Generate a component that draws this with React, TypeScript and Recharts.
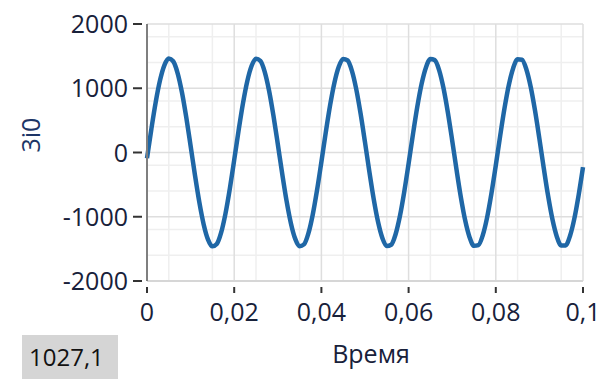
import { LineChart, Line, XAxis, YAxis, CartesianGrid } from 'recharts';

// 3i0 waveform, sampled every 1 ms
const sampleStep = 0.001;
const current3i0 = [
  -90, 365, 784, 1127, 1361, 1462, 1420, 1241, 941, 549,
  104, -352, -773, -1119, -1356, -1461, -1424, -1248, -951, -562,
  -117, 338, 761, 1110, 1350, 1460, 1427, 1256, 962, 574,
  131, -325, -749, -1100, -1345, -1458, -1430, -1263, -972, -587,
  -145, 311, 737, 1091, 1339, 1457, 1433, 1270, 982, 600,
  159, -298, -725, -1082, -1334, -1456, -1436, -1276, -993, -612,
  -172, 284, 713, 1073, 1328, 1454, 1438, 1283, 1003, 625,
  186, -271, -701, -1063, -1322, -1452, -1441, -1290, -1013, -637,
  -200, 257, 689, 1054, 1316, 1450, 1443, 1296, 1023, 650,
  214, -243, -677, -1044, -1310, -1448, -1446, -1303, -1033, -662,
  -227,
];

const xTicks = [0, 0.02, 0.04, 0.06, 0.08, 0.1];
const yTicks = [-2000, -1000, 0, 1000, 2000];
const xMinor = [
  0.005, 0.01, 0.015, 0.025, 0.03, 0.035, 0.045, 0.05, 0.055,
  0.065, 0.07, 0.075, 0.085, 0.09, 0.095,
];
const yMinor = [
  -1800, -1600, -1400, -1200, -800, -600, -400, -200,
  200, 400, 600, 800, 1200, 1400, 1600, 1800,
];
const readout = '1027,1';

const chartData = current3i0.map((v, i) => ({ t: i * sampleStep, v }));

const TEXT = '#18213a';
const FONT = "'Open Sans', sans-serif";

const fmt = (v: number) => String(v).replace('.', ',');

const YTick = ({ x, y, payload }: any) => (
  <g>
    <line x1={x - 14} x2={x - 5} y1={y} y2={y} stroke="#333" strokeWidth={2} />
    <text x={x - 19} y={y} dy="0.36em" textAnchor="end" fontSize={25} fontFamily={FONT} fill={TEXT}>
      {payload.value}
    </text>
  </g>
);

const XTick = ({ x, y, payload }: any) => (
  <g>
    <line x1={x} x2={x} y1={y + 6} y2={y + 12} stroke="#333" strokeWidth={2} />
    <text x={x} y={y + 40} textAnchor="middle" fontSize={25} fontFamily={FONT} fill={TEXT}>
      {fmt(payload.value)}
    </text>
  </g>
);

export default function App() {
  return (
    <div style={{ position: 'absolute', left: 0, top: 0, width: 600, height: 379, background: '#fff' }}>
      <LineChart
        width={600}
        height={379}
        data={chartData}
        margin={{ top: 24, right: 17, bottom: 0, left: 0 }}
      >
        <CartesianGrid stroke="#efefef" strokeWidth={1.5} verticalValues={xMinor} horizontalValues={yMinor} />
        <CartesianGrid stroke="#dedede" strokeWidth={1.5} verticalValues={xTicks} horizontalValues={yTicks} />
        <XAxis
          dataKey="t"
          type="number"
          domain={[0, 0.1]}
          ticks={xTicks}
          height={98}
          tickSize={0}
          tickMargin={0}
          tick={<XTick />}
          axisLine={{ stroke: '#d6d6d6', strokeWidth: 2 }}
          label={{ value: 'Время', position: 'insideBottom', offset: 16, dx: 6, fontSize: 25, fontFamily: FONT, fill: TEXT }}
        />
        <XAxis
          xAxisId="top"
          orientation="top"
          type="number"
          domain={[0, 0.1]}
          height={0}
          tick={false}
          tickLine={false}
          axisLine={{ stroke: '#7f7f7f', strokeWidth: 2 }}
        />
        <YAxis
          type="number"
          domain={[-2000, 2000]}
          ticks={yTicks}
          width={147}
          tickSize={0}
          tickMargin={0}
          tick={<YTick />}
          axisLine={{ stroke: '#7f7f7f', strokeWidth: 2 }}
          label={{ value: '3i0', angle: -90, position: 'insideLeft', offset: 31, fontSize: 25, fontFamily: FONT, fill: '#1d3566' }}
        />
        <YAxis
          yAxisId="right"
          orientation="right"
          type="number"
          domain={[-2000, 2000]}
          width={0}
          tick={false}
          tickLine={false}
          axisLine={{ stroke: '#d6d6d6', strokeWidth: 2 }}
        />
        <Line
          type="monotone"
          dataKey="v"
          stroke="#1f67a6"
          strokeWidth={4.5}
          dot={false}
          isAnimationActive={false}
        />
      </LineChart>
      <div
        style={{
          position: 'absolute',
          left: 22,
          top: 335,
          width: 96,
          height: 44,
          background: '#d5d5d5',
          whiteSpace: 'nowrap',
          fontFamily: FONT,
          fontSize: 24,
          color: '#111',
          lineHeight: '44px',
          paddingLeft: 7,
          boxSizing: 'border-box',
        }}
      >
        {readout}
      </div>
    </div>
  );
}
